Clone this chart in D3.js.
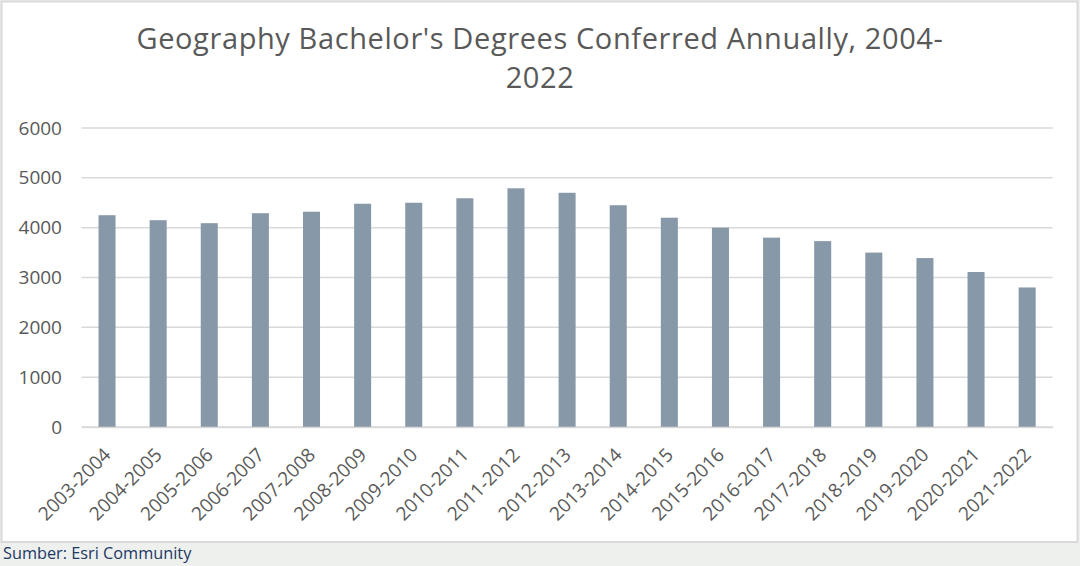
<!DOCTYPE html>
<html>
<head>
<meta charset="utf-8">
<script src="https://cdn.jsdelivr.net/npm/d3@7"></script>
<style>
  html, body { margin: 0; padding: 0; background: #eef0ee; }
  svg { display: block; }
</style>
</head>
<body>
<svg id="chart" width="1080" height="566"></svg>
<script>
const categories = ["2003-2004","2004-2005","2005-2006","2006-2007","2007-2008","2008-2009","2009-2010","2010-2011","2011-2012","2012-2013","2013-2014","2014-2015","2015-2016","2016-2017","2017-2018","2018-2019","2019-2020","2020-2021","2021-2022"];
const values = [4250, 4150, 4090, 4290, 4320, 4480, 4500, 4590, 4790, 4700, 4450, 4200, 4000, 3800, 3730, 3500, 3390, 3110, 2800];
const yTicks = [0, 1000, 2000, 3000, 4000, 5000, 6000];
const titleLines = ["Geography Bachelor's Degrees Conferred Annually, 2004-", "2022"];
const sourceText = "Sumber: Esri Community";

(function () {
const svg = d3.select("#chart");
const W = 1080, H = 566;

svg.append("rect").attr("x", 0).attr("y", 0).attr("width", W).attr("height", H).attr("fill", "#eef0ee");
svg.append("rect").attr("x", 1.5).attr("y", 1.5).attr("width", 1076).attr("height", 540.5)
  .attr("fill", "#ffffff").attr("stroke", "#d9d9d9").attr("stroke-width", 2);

const pLeft = 81.5, pRight = 1052.7, pTop = 128, pBottom = 427;

const x = d3.scaleBand().domain(categories).range([pLeft, pRight]).paddingInner(0.667).paddingOuter(0.333);
const y = d3.scaleLinear().domain([0, 6000]).range([pBottom, pTop]);

svg.append("g").selectAll("line").data(yTicks).join("line")
  .attr("x1", pLeft).attr("x2", pRight)
  .attr("y1", d => y(d)).attr("y2", d => y(d))
  .attr("stroke", "#d9d9d9").attr("stroke-width", 1.5);

const yAxis = d3.axisLeft(y).tickValues(yTicks).tickSize(0).tickPadding(0).tickFormat(d3.format("d"));
const gy = svg.append("g").attr("transform", `translate(${62},0)`).call(yAxis);
gy.select(".domain").remove();
gy.selectAll("text").attr("fill", "#595959").style("font-family", "'Open Sans', sans-serif").style("font-size", "19px");

svg.append("g").selectAll("rect").data(values).join("rect")
  .attr("x", (d, i) => x(categories[i]))
  .attr("width", x.bandwidth())
  .attr("y", d => y(d))
  .attr("height", d => y(0) - y(d))
  .attr("fill", "#8798a8");

const xAxis = d3.axisBottom(x).tickSize(0).tickPadding(0);
const gx = svg.append("g").attr("transform", `translate(0,${pBottom})`).call(xAxis);
gx.select(".domain").attr("stroke", "#d9d9d9").attr("stroke-width", 1.5);
gx.selectAll("text")
  .attr("fill", "#595959")
  .style("font-family", "'Open Sans', sans-serif")
  .style("font-size", "19px")
  .attr("text-anchor", "end")
  .attr("y", 0)
  .attr("dy", "0")
  .attr("transform", "translate(5,29) rotate(-45)");

svg.append("g").selectAll("text").data(titleLines).join("text")
  .attr("x", 540).attr("y", (d, i) => 49 + i * 39)
  .attr("text-anchor", "middle")
  .attr("fill", "#595959")
  .style("font-family", "'Open Sans', sans-serif")
  .style("font-size", "29px")
  .style("letter-spacing", "0.6px")
  .text(d => d);

svg.append("text").attr("x", 3).attr("y", 559)
  .attr("fill", "#203864")
  .style("font-family", "'Open Sans', sans-serif")
  .style("font-size", "16.3px")
  .text(sourceText);
})();
</script>
</body>
</html>
